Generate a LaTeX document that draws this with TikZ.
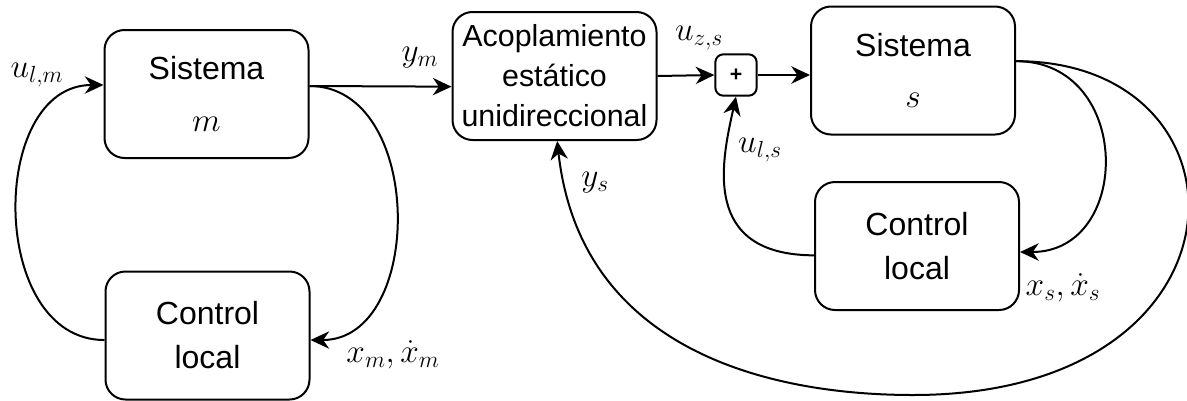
\RequirePackage{fix-cm}
\documentclass[tikz,border=0pt]{standalone}
\usepackage{amsmath}
\usepackage{fontspec}
\setsansfont{Liberation Sans}
\usetikzlibrary{calc,arrows.meta}

\begin{document}
\begin{tikzpicture}[x=0.75pt, y=-0.75pt,
  blk/.style={draw, line width=1.5pt, rounded corners=15pt, align=center, inner sep=0pt,
    minimum width=153pt, minimum height=96pt, font=\sffamily\fontsize{24}{33}\selectfont},
  lbl/.style={inner sep=0pt, font=\fontsize{25}{28}\selectfont},
  arr/.style={line width=1.5pt, -{Stealth[length=14pt, width=13pt, inset=4.5pt]}}]
\useasboundingbox (0,0) rectangle (1187,400);
\node[blk] (sm) at (206.5,94) {Sistema\\[6pt] \fontsize{25}{28}\selectfont$m$};
\node[blk] (cl) at (207.5,335.5) {Control\\ local};
\node[blk, font=\sffamily\fontsize{22.8}{30}\selectfont] (ac) at (554.5,76) {Acoplamiento\\ estático\\ unidireccional};
\node[draw, line width=1.5pt, rounded corners=6pt, minimum size=31pt, inner sep=0pt, font=\sffamily\bfseries\fontsize{16}{18}\selectfont] (pl) at (736,75) {+};
\node[blk] (ss) at (913,70.5) {Sistema\\[5pt] \fontsize{25}{28}\selectfont$s$};
\node[blk] (cs) at (917,246) {Control\\ local};
\coordinate (bt) at (913,395);
\draw[arr] ([yshift=6pt]sm.east) -- ([yshift=-8pt]ac.west);
\draw[arr] ([yshift=6pt]sm.east) .. controls (425,86) and (425,340) .. ([yshift=-3.4pt]cl.east);
\draw[arr] ([yshift=-3.4pt]cl.west) .. controls (-12,340) and (-12,85) .. ([yshift=6.75pt]sm.west);
\draw[arr] (ac.east) -- (pl.west);
\draw[arr] (pl.east) -- (pl.east -| ss.west);
\draw[arr] ([yshift=7pt]ss.east) .. controls (1133,61) and (1133,252) .. ([yshift=-4.5pt]cs.east);
\draw[arr] ([yshift=-7pt]cs.west) .. controls (700,255) and (722,160) .. (pl.south);
\draw[arr] ([yshift=7pt]ss.east) .. controls (1261,61) and (1261,395) .. (bt) .. controls (763,395) and (580,347) .. ([xshift=2pt]ac.south);
\node[lbl] (ulm) at (37,75) {$u_{l,m}$};
\node[lbl] (ym) at (420,58) {$y_m$};
\node[lbl] (xm) at (393,355) {$x_m, \dot{x}_m$};
\node[lbl] (uzs) at (699,38) {$u_{z,s}$};
\node[lbl] (uls) at (760,150) {$u_{l,s}$};
\node[lbl] (ys) at (595,183) {$y_s$};
\node[lbl] (xs) at (1063,288) {$x_s, \dot{x}_s$};
\end{tikzpicture}
\end{document}
